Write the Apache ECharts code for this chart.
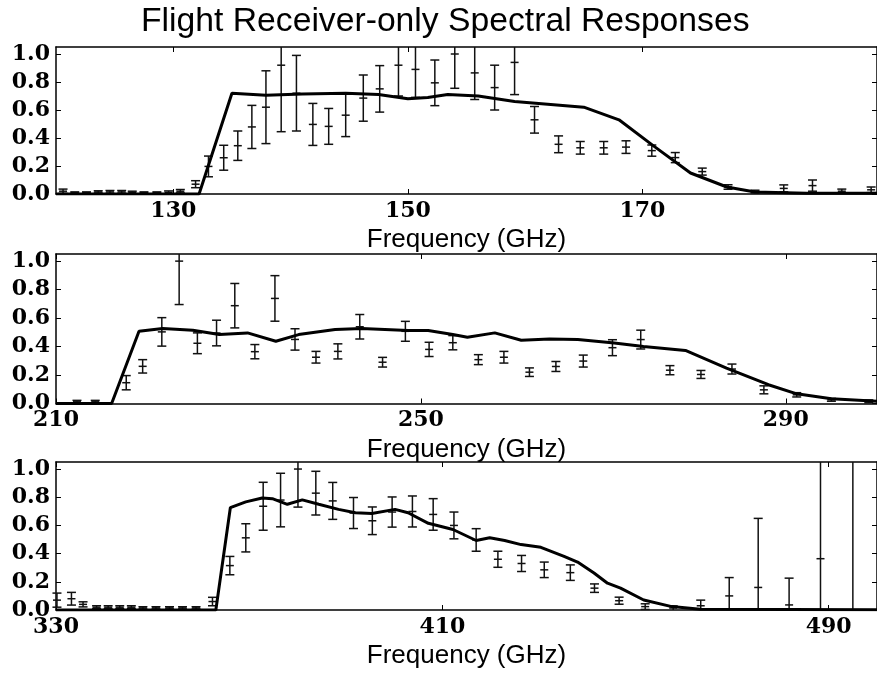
<!DOCTYPE html>
<html><head><meta charset="utf-8">
<script src="https://cdn.jsdelivr.net/npm/echarts@6/dist/echarts.min.js"></script>
<style>html,body{margin:0;padding:0;background:#fff}#c{width:877px;height:677px}</style>
</head><body><div id="c"></div>
<script>
// ---------- Panel 1 (120-190 GHz) ----------
var ptF1 = [120.6,121.6,122.6,123.6,124.6,125.6,126.5,127.5,128.6,129.6,130.6,131.9,133.0,134.3,135.5,136.7,137.9,139.2,140.5,141.9,143.25,144.7,146.2,147.6,149.2,150.65,152.3,154.0,155.7,157.4,159.1,160.8,162.85,164.7,166.7,168.6,170.8,172.8,175.1,177.3,179.6,182.05,184.5,187.0,189.5];
var ptV1 = [0.02,0.01,0.01,0.015,0.015,0.015,0.012,0.01,0.01,0.012,0.02,0.07,0.197,0.259,0.345,0.479,0.62,0.92,0.72,0.497,0.483,0.563,0.685,0.751,0.92,0.89,0.794,1.0,0.865,0.76,0.94,0.53,0.355,0.33,0.33,0.335,0.31,0.26,0.16,0.05,0.017,0.04,0.06,0.02,0.03];
var ptE1 = [0.015,0.005,0.005,0.008,0.01,0.01,0.008,0.005,0.005,0.01,0.012,0.025,0.074,0.089,0.105,0.154,0.26,0.475,0.27,0.15,0.128,0.153,0.165,0.166,0.22,0.2,0.163,0.245,0.19,0.16,0.23,0.095,0.06,0.045,0.045,0.045,0.04,0.036,0.025,0.016,0.01,0.025,0.04,0.015,0.02];
var lineF1 = [120,132.2,135.0,137.9,141.0,144.7,147.5,150.0,151.7,153.4,156.0,159.1,165.0,168.0,171.0,174.1,177.2,179.6,184,190];
var lineV1 = [0,0,0.72,0.705,0.715,0.72,0.71,0.68,0.69,0.71,0.70,0.66,0.62,0.53,0.34,0.15,0.05,0.015,0.005,0.005];
var xTicks1 = [130,150,170];

// ---------- Panel 2 (210-300 GHz) ----------
var ptF2 = [212.3,214.3,217.7,219.5,221.6,223.5,225.5,227.6,229.6,231.8,234.0,236.2,238.5,240.9,243.3,245.8,248.3,250.9,253.5,256.3,259.1,261.9,264.8,267.8,271.0,274.1,277.3,280.7,284.1,287.6,291.2,295.0,299.1];
var ptV2 = [0.012,0.012,0.146,0.261,0.503,1.0,0.423,0.495,0.687,0.364,0.738,0.45,0.325,0.366,0.539,0.29,0.507,0.38,0.427,0.308,0.325,0.22,0.26,0.298,0.392,0.449,0.234,0.204,0.242,0.096,0.061,0.026,0.015];
var ptE2 = [0.01,0.01,0.05,0.047,0.1,0.305,0.073,0.09,0.156,0.05,0.16,0.075,0.041,0.053,0.086,0.034,0.07,0.05,0.05,0.035,0.041,0.03,0.035,0.042,0.056,0.066,0.032,0.028,0.035,0.028,0.015,0.01,0.01];
var lineF2 = [210,216.1,219.1,221.7,225.0,227.9,231.0,234.1,236.6,240.6,243.5,248.6,250.8,253.5,255.1,258.1,261.0,264.1,267.2,271.2,274.4,279.0,283.5,288.1,291.2,295.0,300];
var lineV2 = [0,0,0.507,0.526,0.514,0.484,0.496,0.437,0.484,0.519,0.526,0.512,0.512,0.484,0.465,0.496,0.444,0.453,0.449,0.425,0.401,0.373,0.249,0.132,0.068,0.033,0.015];
var xTicks2 = [210,250,290];

// ---------- Panel 3 (330-500 GHz) ----------
var ptF3 = [330.2,333.2,335.6,338.4,340.8,343.2,345.6,348.0,350.7,353.5,356.2,359.0,362.4,366.0,369.3,372.9,376.5,380.1,383.8,387.3,391.6,395.5,399.6,403.8,408.1,412.4,417.0,421.5,426.4,431.1,436.5,441.5,446.6,452.0,457.8,463.5,469.4,475.4,481.8,488.3,495.0];
var ptV3 = [0.07,0.08,0.04,0.02,0.02,0.02,0.02,0.015,0.015,0.015,0.015,0.015,0.06,0.315,0.512,0.736,0.78,1.0,0.829,0.774,0.688,0.633,0.695,0.699,0.678,0.6,0.497,0.36,0.33,0.285,0.265,0.155,0.066,0.024,0.014,0.03,0.1,0.16,0.036,0.364,1.2];
var ptE3 = [0.05,0.045,0.018,0.01,0.01,0.01,0.01,0.008,0.008,0.008,0.008,0.008,0.03,0.065,0.1,0.17,0.19,0.27,0.155,0.131,0.11,0.098,0.107,0.11,0.112,0.095,0.08,0.057,0.057,0.055,0.055,0.03,0.025,0.02,0.015,0.04,0.13,0.49,0.19,1.5,3];
var lineF3 = [330,363.1,366.1,369.3,372.7,374.8,377.9,381.0,384.4,388.5,392.0,395.4,400.2,402.9,407.1,412.2,417.0,419.8,422.9,426.3,430.4,435.2,438.0,441.4,444.2,446.9,451.7,457.5,463.4,500];
var lineV3 = [0,0,0.726,0.767,0.795,0.79,0.75,0.781,0.75,0.714,0.69,0.685,0.714,0.69,0.615,0.571,0.493,0.512,0.493,0.464,0.445,0.381,0.34,0.262,0.19,0.155,0.071,0.024,0.005,0.002];
var xTicks3 = [330,410,490];

var yTicks = [0,0.2,0.4,0.6,0.8,1.0];
var titleText = 'Flight Receiver-only Spectral Responses';
var xName = 'Frequency (GHz)';

var panels = [
  {xmin:120,xmax:190,top:47,height:147,ticks:xTicks1,pf:ptF1,pv:ptV1,pe:ptE1,lf:lineF1,lv:lineV1},
  {xmin:210,xmax:300,top:254,height:149.5,ticks:xTicks2,pf:ptF2,pv:ptV2,pe:ptE2,lf:lineF2,lv:lineV2},
  {xmin:330,xmax:500,top:462,height:148,ticks:xTicks3,pf:ptF3,pv:ptV3,pe:ptE3,lf:lineF3,lv:lineV3}
];
var YMAX = 1.05;
var serif = 'DejaVu Serif';
var sans = 'Liberation Sans';

var chart = echarts.init(document.getElementById('c'), null, {renderer:'canvas'});
var grids=[], xAxes=[], yAxes=[], series=[];
var axisLineStyle = {color:'#000', width:1.5};
panels.forEach(function(p, i){
  grids.push({left:56, width:825, top:p.top, height:p.height, containLabel:false});
  xAxes.push({type:'value', gridIndex:i, min:p.xmin, max:p.xmax, position:'bottom',
    axisLine:{show:true,onZero:false,lineStyle:axisLineStyle},
    axisTick:{show:true,inside:true,length:5,customValues:p.ticks,lineStyle:{color:'#000',width:1}},
    axisLabel:{show:true,customValues:p.ticks,fontFamily:serif,fontWeight:'bold',fontSize:22,color:'#000',margin:6},
    splitLine:{show:false},
    name:xName, nameLocation:'middle', nameGap:33,
    nameTextStyle:{fontFamily:sans,fontSize:26,color:'#000'}});
  xAxes.push({type:'value', gridIndex:i, min:p.xmin, max:p.xmax, position:'top',
    axisLine:{show:true,onZero:false,lineStyle:axisLineStyle},
    axisTick:{show:true,inside:true,length:5,customValues:p.ticks,lineStyle:{color:'#000',width:1}},
    axisLabel:{show:false}, splitLine:{show:false}});
  yAxes.push({type:'value', gridIndex:i, min:0, max:YMAX, position:'left',
    axisLine:{show:true,onZero:false,lineStyle:axisLineStyle},
    axisTick:{show:true,inside:true,length:5,customValues:yTicks,lineStyle:{color:'#000',width:1}},
    axisLabel:{show:true,customValues:yTicks,formatter:function(v){return Number(v).toFixed(1);},
      fontFamily:serif,fontWeight:'bold',fontSize:22,color:'#000',margin:6},
    splitLine:{show:false}});
  yAxes.push({type:'value', gridIndex:i, min:0, max:YMAX, position:'right',
    axisLine:{show:true,onZero:false,lineStyle:axisLineStyle},
    axisTick:{show:true,inside:true,length:5,customValues:yTicks,lineStyle:{color:'#000',width:1}},
    axisLabel:{show:false}, splitLine:{show:false}});

  var pdata = p.pf.map(function(f,k){return [f, p.pv[k], p.pe[k]];});
  series.push({type:'custom', xAxisIndex:2*i, yAxisIndex:2*i, data:pdata, z:2,
    renderItem:function(params, api){
      var f=api.value(0), v=api.value(1), e=api.value(2);
      var lo=v-e, hi=v+e;
      var loC=Math.max(lo,0), hiC=Math.min(hi,YMAX);
      var a=api.coord([f,loC]), b=api.coord([f,hiC]), c=api.coord([f,v]);
      var st={stroke:'#111',lineWidth:1.5};
      var ch=[{type:'line',shape:{x1:a[0],y1:a[1],x2:b[0],y2:b[1]},style:st}];
      var cw=4.5, mw=4;
      if(lo>=0) ch.push({type:'line',shape:{x1:a[0]-cw,y1:a[1],x2:a[0]+cw,y2:a[1]},style:st});
      if(hi<=YMAX) ch.push({type:'line',shape:{x1:b[0]-cw,y1:b[1],x2:b[0]+cw,y2:b[1]},style:st});
      if(v>=0 && v<=YMAX) ch.push({type:'line',shape:{x1:c[0]-mw,y1:c[1],x2:c[0]+mw,y2:c[1]},style:st});
      return {type:'group',children:ch};
    }});
  var ldata = p.lf.map(function(f,k){return [f, p.lv[k]];});
  series.push({type:'line', xAxisIndex:2*i, yAxisIndex:2*i, data:ldata, showSymbol:false, symbol:'none',
    lineStyle:{color:'#000',width:3}, clip:true, z:3, animation:false});
});

chart.setOption({
  animation:false,
  backgroundColor:'#fff',
  title:{text:titleText,left:136,top:0,textStyle:{fontFamily:sans,fontSize:33.7,fontWeight:'normal',color:'#000'}},
  grid:grids, xAxis:xAxes, yAxis:yAxes, series:series
});
</script></body></html>
